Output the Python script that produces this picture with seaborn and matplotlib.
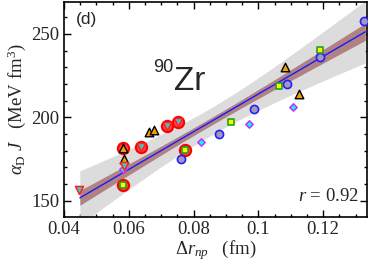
import numpy as np
import pandas as pd
import matplotlib
matplotlib.use("Agg")
import matplotlib.pyplot as plt
import seaborn as sns

# data (Delta r_np in fm, alpha_D*J in MeV fm^3)
blue_x = [0.0760, 0.0879, 0.0986, 0.1087, 0.1189, 0.1327]
blue_y = [175.3, 190.3, 205.1, 220.0, 236.4, 257.8]

green_x = [0.0581, 0.0773, 0.0915, 0.1064, 0.1190]
green_y = [159.6, 180.4, 197.5, 218.7, 240.2]

orange_x = [0.0581, 0.0584, 0.0662, 0.0678, 0.1081, 0.1126]
orange_y = [181.9, 175.0, 191.1, 192.7, 230.4, 214.0]

diam_x = [0.0581, 0.0822, 0.0972, 0.1108]
diam_y = [169.0, 185.5, 195.9, 206.5]

redtri_x = [0.0447, 0.0584, 0.0637, 0.0717, 0.0753]
redtri_y = [156.6, 171.0, 182.5, 194.9, 197.1]

# points marked with a red ring
ring_x = [0.0581, 0.0637, 0.0717, 0.0753, 0.0581, 0.0773]
ring_y = [181.9, 182.5, 194.9, 197.1, 159.6, 180.4]

# fitted line as drawn in the figure (end points)
fit_x = [0.0449, 0.1330]
fit_y = [151.8, 251.2]

r_text = "0.92"

sns.set_style("ticks")
plt.rcParams["font.family"] = ["Liberation Serif", "DejaVu Serif"]
plt.rcParams["mathtext.fontset"] = "custom"
plt.rcParams["mathtext.rm"] = "Liberation Serif"
plt.rcParams["mathtext.it"] = "Liberation Serif:italic"

fig = plt.figure(figsize=(3.74, 2.62), dpi=100)
ax = fig.add_axes([0.171, 0.172, 0.810, 0.820])

all_x = np.array(blue_x + green_x + orange_x + diam_x + redtri_x)
all_y = np.array(blue_y + green_y + orange_y + diam_y + redtri_y)

# bands around the line
b = (fit_y[1] - fit_y[0]) / (fit_x[1] - fit_x[0])
a = fit_y[0] - b * fit_x[0]
n = len(all_x)
res = all_y - (a + b * all_x)
s = np.sqrt(np.sum(res**2) / (n - 2))
xm = all_x.mean()
sxx = np.sum((all_x - xm) ** 2)
xx = np.linspace(fit_x[0], fit_x[1], 100)
yy = a + b * xx
se = s * np.sqrt(1.0 / n + (xx - xm) ** 2 / sxx)
ax.fill_between(xx, yy - 4.0 * se, yy + 4.0 * se, color="#dcdcdc", lw=0, zorder=1)
ax.fill_between(xx, yy - 1.1 * se, yy + 1.1 * se, color="#b08282", lw=0, zorder=2)
line_df = pd.DataFrame({"x": xx, "y": yy})
sns.lineplot(data=line_df, x="x", y="y", ax=ax, color="#1a1aff", lw=1.0, zorder=3)

sns.scatterplot(x=ring_x, y=ring_y, ax=ax, marker="o", s=64, color="#ff4a4a",
                edgecolor="#ff0000", linewidth=1.6, zorder=4)
sns.scatterplot(x=blue_x, y=blue_y, ax=ax, marker="o", s=34, color="#a898b8",
                edgecolor="#2020ff", linewidth=1.2, zorder=5)
sns.scatterplot(x=green_x, y=green_y, ax=ax, marker="s", s=25, color="#ffff00",
                edgecolor="#20a020", linewidth=1.2, zorder=5)
sns.scatterplot(x=orange_x, y=orange_y, ax=ax, marker="^", s=38, color="#f0a000",
                edgecolor="black", linewidth=1.0, zorder=5)
sns.scatterplot(x=diam_x, y=diam_y, ax=ax, marker="D", s=14, color="#00ffff",
                edgecolor="#c030ff", linewidth=1.1, zorder=5)
sns.scatterplot(x=redtri_x, y=redtri_y, ax=ax, marker="v", s=34, color="#40c8c8",
                edgecolor="#ff2020", linewidth=1.1, zorder=5)

ax.set_xlim(0.04, 0.1335)
ax.set_ylim(140.4, 269)
ax.set_xticks([0.04, 0.06, 0.08, 0.1, 0.12])
ax.set_xticklabels(["0.04", "0.06", "0.08", "0.1", "0.12"])
ax.set_yticks([150, 200, 250])
ax.set_xticks(np.arange(0.04, 0.1336, 0.005), minor=True)
ax.set_yticks(np.arange(150, 269, 10), minor=True)
ax.tick_params(which="both", direction="in", top=True, right=True,
               labelsize=13.5, width=1.0, color="black")
ax.tick_params(which="major", length=5)
ax.tick_params(which="minor", length=2.5)
ax.tick_params(axis="x", pad=3)
for sp in ax.spines.values():
    sp.set_linewidth(1.2)
    sp.set_color("black")

ax.set_xlabel(r"$\Delta r_{np}$   (fm)", fontsize=13.5, labelpad=0)
ax.set_ylabel(r"$\alpha_{\rm D}\ J$   (MeV fm$^3$)", fontsize=13.5, labelpad=2)

sans = ["Liberation Sans", "DejaVu Sans"]
ax.text(0.04, 0.955, "(d)", transform=ax.transAxes, fontsize=12.5,
        family=sans, va="top", ha="left")
ax.text(0.293, 0.674, "90", transform=ax.transAxes, fontsize=13,
        family=sans, va="baseline", ha="left")
ax.text(0.362, 0.59, "Zr", transform=ax.transAxes, fontsize=24,
        family=sans, va="baseline", ha="left")
ax.text(0.975, 0.055, r"$r$ = " + r_text, transform=ax.transAxes,
        fontsize=13.5, ha="right", va="bottom")

fig.savefig("out.png", dpi=100)
